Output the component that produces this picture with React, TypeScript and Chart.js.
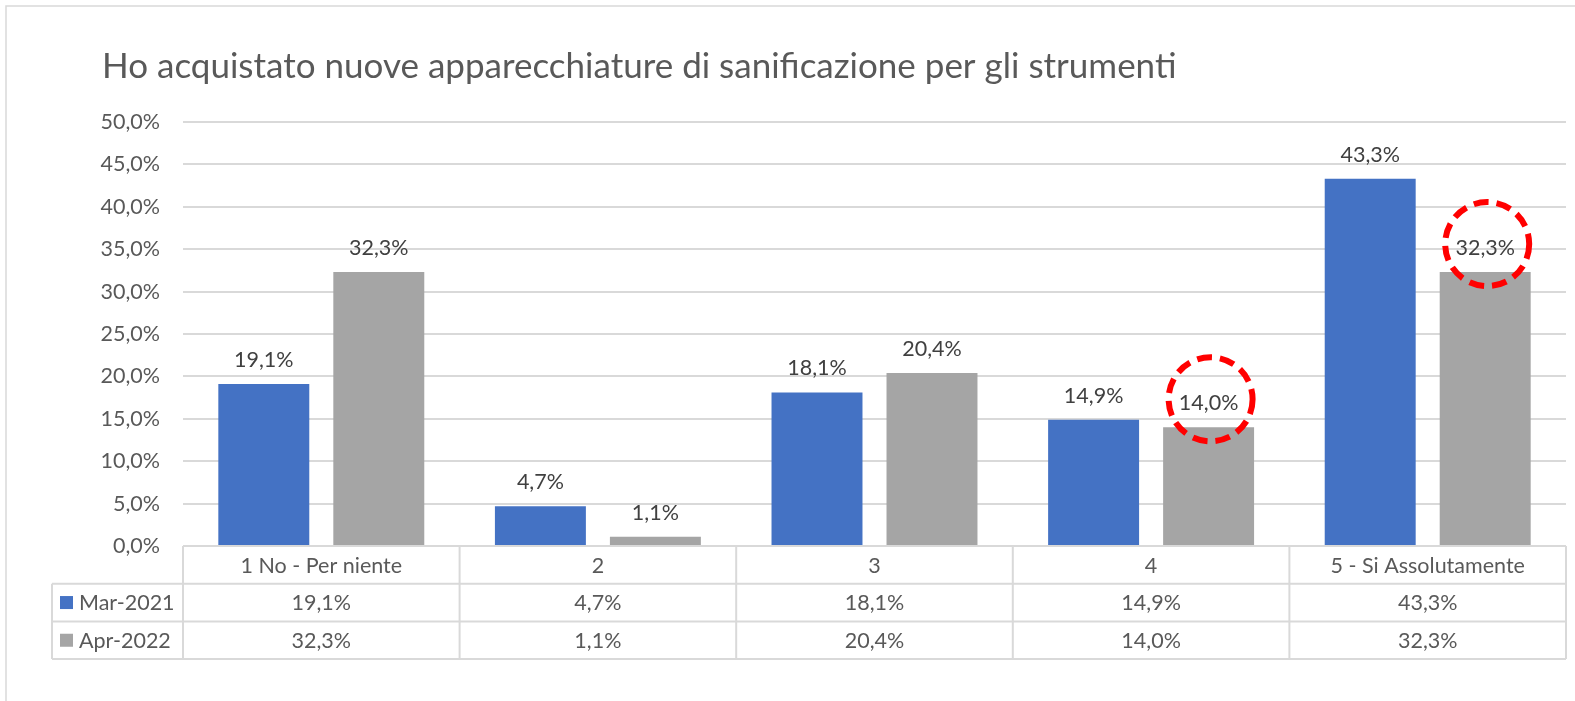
import React, { useEffect, useRef } from "react";
import { Chart, registerables } from "chart.js";

Chart.register(...registerables);

const TITLE = "Ho acquistato nuove apparecchiature di sanificazione per gli strumenti";
const categories = ["1 No - Per niente", "2", "3", "4", "5 - Si Assolutamente"];
const seriesNames = ["Mar-2021", "Apr-2022"];
const mar2021 = [19.1, 4.7, 18.1, 14.9, 43.3];
const apr2022 = [32.3, 1.1, 20.4, 14.0, 32.3];
const seriesColors = ["#4472C4", "#A5A5A5"];
const yMax = 50;
const yStep = 5;
// data points whose label is circled in red: [datasetIndex, categoryIndex]
const highlighted: [number, number][] = [
  [1, 3],
  [1, 4],
];

const FONT = "Lato, 'Liberation Sans', sans-serif";
const TXT = 21.5;
const fmt = (v: number) => v.toFixed(1).replace(".", ",") + "%";

const decorPlugin = {
  id: "decor",
  beforeDraw(chart: any) {
    const ctx = chart.ctx;
    ctx.save();
    ctx.fillStyle = "#ffffff";
    ctx.fillRect(0, 0, chart.width, chart.height);
    ctx.strokeStyle = "#D9D9D9";
    ctx.lineWidth = 1.5;
    ctx.beginPath();
    ctx.moveTo(6, chart.height + 5);
    ctx.lineTo(6, 6);
    ctx.lineTo(chart.width + 5, 6);
    ctx.stroke();
    // title
    ctx.fillStyle = "#595959";
    ctx.font = `35px ${FONT}`;
    ctx.textAlign = "left";
    ctx.textBaseline = "alphabetic";
    ctx.fillText(TITLE, 102, 78);
    ctx.restore();
  },
  afterDatasetsDraw(chart: any) {
    const ctx = chart.ctx;
    ctx.save();
    ctx.font = `${TXT}px ${FONT}`;
    ctx.fillStyle = "#404040";
    ctx.textAlign = "center";
    ctx.textBaseline = "middle";
    chart.data.datasets.forEach((ds: any, di: number) => {
      const meta = chart.getDatasetMeta(di);
      meta.data.forEach((bar: any, i: number) => {
        ctx.fillText(fmt(ds.data[i]), bar.x, bar.y - 24);
      });
    });
    // red dashed circles
    ctx.strokeStyle = "#FF0000";
    ctx.lineWidth = 6;
    ctx.setLineDash([15, 8]);
    highlighted.forEach(([di, i]) => {
      const bar: any = chart.getDatasetMeta(di).data[i];
      ctx.beginPath();
      ctx.arc(bar.x + 2, bar.y - 28, 42, 0, Math.PI * 2);
      ctx.stroke();
    });
    ctx.setLineDash([]);

    // data table
    const area = chart.chartArea;
    const n = categories.length;
    const cw = (area.right - area.left) / n;
    const top = area.bottom;
    const rowH = 37.7;
    const legendLeft = 52;
    ctx.strokeStyle = "#D9D9D9";
    ctx.lineWidth = 2;
    ctx.beginPath();
    ctx.moveTo(area.left, top);
    ctx.lineTo(area.right, top);
    for (let r = 1; r <= 3; r++) {
      ctx.moveTo(legendLeft, top + r * rowH);
      ctx.lineTo(area.right, top + r * rowH);
    }
    for (let c = 0; c <= n; c++) {
      const x = area.left + c * cw;
      ctx.moveTo(x, top);
      ctx.lineTo(x, top + 3 * rowH);
    }
    ctx.moveTo(legendLeft, top + rowH);
    ctx.lineTo(legendLeft, top + 3 * rowH);
    ctx.stroke();

    ctx.fillStyle = "#595959";
    ctx.font = `${TXT}px ${FONT}`;
    ctx.textAlign = "center";
    ctx.textBaseline = "middle";
    categories.forEach((c, i) => {
      const x = chart.scales.x.getPixelForValue(i);
      ctx.fillText(c, x, top + rowH / 2 + 1);
    });
    const rows = [mar2021, apr2022];
    rows.forEach((vals, r) => {
      const y = top + (r + 1.5) * rowH + 1;
      vals.forEach((v, i) => {
        const x = chart.scales.x.getPixelForValue(i);
        ctx.fillStyle = "#595959";
        ctx.textAlign = "center";
        ctx.fillText(fmt(v), x, y);
      });
      ctx.fillStyle = seriesColors[r];
      ctx.fillRect(60, y - 7.5, 13, 13);
      ctx.fillStyle = "#595959";
      ctx.textAlign = "left";
      ctx.fillText(seriesNames[r], 79, y);
    });
    ctx.restore();
  },
};

export default function App() {
  const ref = useRef<HTMLCanvasElement>(null);
  useEffect(() => {
    if (!ref.current) return;
    const chart = new Chart(ref.current, {
      type: "bar",
      data: {
        labels: categories,
        datasets: [
          { label: seriesNames[0], data: mar2021, backgroundColor: seriesColors[0] },
          { label: seriesNames[1], data: apr2022, backgroundColor: seriesColors[1] },
        ],
      },
      options: {
        animation: false,
        responsive: false,
        devicePixelRatio: 1,
        layout: { padding: { left: 0, top: 122, right: 9, bottom: 155 } },
        datasets: { bar: { categoryPercentage: 0.8315, barPercentage: 0.791 } },
        plugins: { legend: { display: false }, title: { display: false }, tooltip: { enabled: false } },
        scales: {
          x: { display: false },
          y: {
            min: 0,
            max: yMax,
            ticks: {
              stepSize: yStep,
              padding: 23,
              color: "#595959",
              font: { family: FONT, size: TXT },
              callback: (v: any) => fmt(Number(v)),
            },
            border: { display: false },
            grid: { color: "#D9D9D9", lineWidth: 2, drawTicks: false },
            afterFit: (scale: any) => {
              scale.width = 183;
            },
          },
        },
      },
      plugins: [decorPlugin],
    });
    return () => chart.destroy();
  }, []);
  return (
    <div style={{ position: "fixed", left: 0, top: 0, width: 1575, height: 701, overflow: "hidden" }}>
      <canvas ref={ref} width={1575} height={701} style={{ width: 1575, height: 701 }} />
    </div>
  );
}
